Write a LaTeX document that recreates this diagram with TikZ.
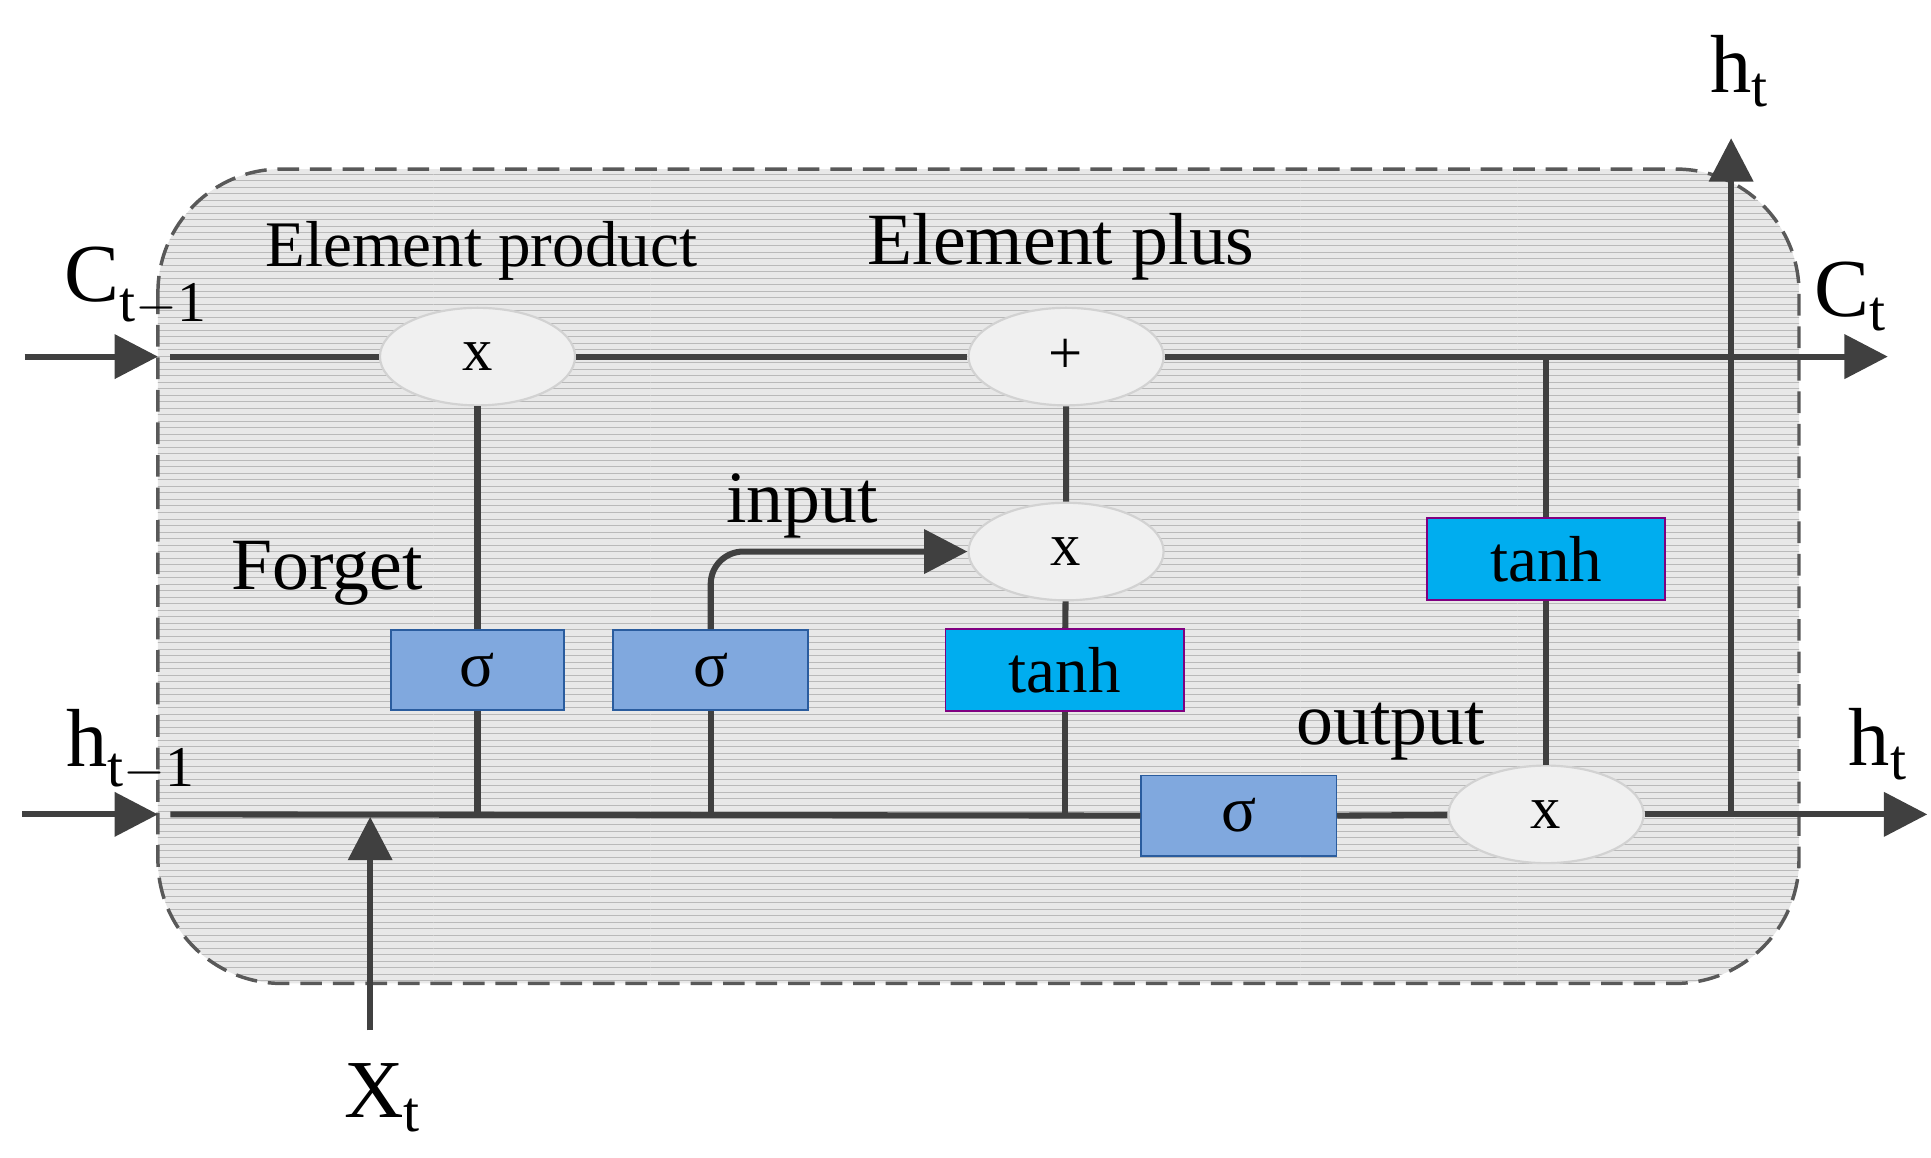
\documentclass[tikz,border=0pt]{standalone}
\usepackage{fontspec}
\setmainfont{Liberation Serif}
\usetikzlibrary{shapes.geometric,patterns,arrows.meta}
\definecolor{ln}{HTML}{404040}
\definecolor{sig}{HTML}{80A8DE}
\definecolor{sigb}{HTML}{2A5C9E}
\tikzset{
  wire/.style={draw=ln,line width=2.8pt},
  arr/.style={wire,-{Triangle[length=20pt,width=20pt]}},
  op/.style={ellipse,fill=gray!12,draw=gray!35,line width=1pt,minimum width=90pt,minimum height=45pt,font=\fontsize{28}{30}\selectfont},
  sg/.style={rectangle,fill=sig,draw=sigb,line width=0.8pt,minimum width=80pt,minimum height=37pt,font=\fontsize{30}{32}\selectfont},
  th/.style={rectangle,fill=cyan,draw=violet,line width=0.8pt,minimum width=110pt,minimum height=38pt,font=\fontsize{30}{32}\selectfont},
  lbl/.style={font=\fontsize{30}{32}\selectfont,inner sep=0pt},
  big/.style={font=\fontsize{38}{40}\selectfont,inner sep=0pt}
}
\begin{document}
\begin{tikzpicture}[x={(0.02cm,0)},y={(0,-0.02cm)}]
\useasboundingbox (0,0) rectangle (1565,938);
\fill[gray!18,rounded corners=2cm] (128,137) rectangle (1458,797);
\fill[pattern=horizontal lines,pattern color=gray!55,rounded corners=2cm] (128,137) rectangle (1458,797);
\draw[gray!70!black,dashed,line width=1.6pt,dash pattern=on 10pt off 5pt,rounded corners=2cm] (128,137) rectangle (1458,797);
% nodes
\node[op] (m1) at (387,289) {x};
\node[op] (pl) at (864,289) {+};
\node[op] (m2) at (864,447) {x};
\node[op] (m3) at (1253,660) {x};
\node[sg] (s1) at (387,543) {σ};
\node[sg,minimum width=90pt] (s2) at (576,543) {σ};
\node[th] (t1) at (863,543) {tanh};
\node[sg,minimum width=90pt] (s3) at (1004,661) {σ};
\node[th] (t2) at (1253,453) {tanh};
\coordinate (cin0) at (20,289); \coordinate (cin1) at (128,289); \coordinate (cs) at (138,289);
\coordinate (cout) at (1530,289); \coordinate (cj) at (1253,289);
\coordinate (hin0) at (18,660); \coordinate (hin1) at (128,660); \coordinate (hs) at (138,660);
\coordinate (hout) at (1562,660); \coordinate (hj) at (1403,660); \coordinate (htop) at (1403,112);
\coordinate (x0) at (300,835); \coordinate (x1) at (300,662);
\coordinate (b1) at (387,660); \coordinate (b2) at (576,660); \coordinate (b3) at (863,660);
\coordinate (ic) at (576,447);
% wires
\draw[arr] (cin0) -- (cin1);
\draw[arr] (hin0) -- (hin1);
\draw[wire] (cs) -- (m1) -- (pl);
\draw[arr] (pl) -- (cout);
\draw[wire] (hs) -- (s3.west);
\draw[wire] (s3.east) -- (m3);
\draw[arr] (m3) -- (hout);
\draw[arr] (hj) -- (htop);
\draw[arr] (x0) -- (x1);
\draw[wire] (m1) -- (s1) -- (b1);
\draw[wire] (s2) -- (b2);
\draw[wire] (t1) -- (b3);
\draw[wire] (t1) -- (m2) -- (pl);
\draw[arr,rounded corners=15pt] (s2.north) -- (ic) -- (m2.west);
\draw[wire] (cj) -- (t2) -- (m3);
% labels
\node[big] (lc) at (110,232) {C$_{\mathrm{t-1}}$};
\node[lbl] (lep) at (390,203) {Element product};
\node[lbl,font=\fontsize{34}{36}\selectfont] (lpl) at (860,200) {Element plus};
\node[big] (lct) at (1500,240) {C$_{\mathrm{t}}$};
\node[lbl,font=\fontsize{34}{36}\selectfont] (lin) at (650,410) {input};
\node[lbl,font=\fontsize{34}{36}\selectfont] (lf) at (265,465) {Forget};
\node[big] (lh) at (106,608) {h$_{\mathrm{t-1}}$};
\node[lbl,font=\fontsize{34}{36}\selectfont] (lo) at (1127,593) {output};
\node[big] (lht) at (1522,603) {h$_{\mathrm{t}}$};
\node[big] (lht2) at (1410,58) {h$_{\mathrm{t}}$};
\node[big] (lx) at (310,890) {X$_{\mathrm{t}}$};
\end{tikzpicture}
\end{document}
